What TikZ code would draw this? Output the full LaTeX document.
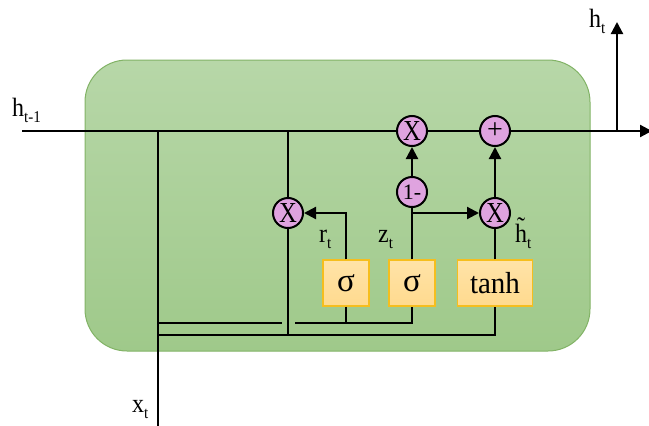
\documentclass[tikz,border=0pt]{standalone}
\usepackage{fontspec}
\setmainfont{Liberation Serif}
\usetikzlibrary{arrows.meta}
\definecolor{cellborder}{HTML}{82B366}
\definecolor{celltop}{HTML}{B7D7A8}
\definecolor{cellbot}{HTML}{9FC98A}
\definecolor{opfill}{HTML}{DFA3DF}
\definecolor{gatefill}{HTML}{FFDA8E}
\definecolor{gatetop}{HTML}{FFE3A8}
\definecolor{gateborder}{HTML}{F5BE1E}
\newcommand{\lbl}[2]{\scalebox{1}[1.1]{{\fontsize{24}{24}\selectfont #1}\raisebox{-6pt}{\fontsize{15}{15}\selectfont #2}}}
\newcommand{\opX}{\scalebox{0.85}[1]{\fontsize{29}{29}\selectfont X}}
\begin{document}
\begin{tikzpicture}[x=1pt,y=-1pt,
  wire/.style={line width=2.2pt,black},
  arrowwire/.style={wire,-{Triangle[length=12pt,width=12pt]}},
  opnode/.style={circle,draw=black,line width=2pt,fill=opfill,minimum size=30pt,inner sep=0pt},
  gatebox/.style={draw=gateborder,line width=1.3pt,top color=gatetop,bottom color=gatefill,minimum height=46pt,inner sep=0pt},
  lab/.style={anchor=base west,inner sep=0pt}]
\useasboundingbox (0,0) rectangle (649,426);
\shadedraw[top color=celltop,bottom color=cellbot,draw=cellborder,line width=1pt,rounded corners=42pt] (85,60) rectangle (590,351);
% coordinates
\coordinate (hin) at (22,131);
\coordinate (j1) at (158,131);
\coordinate (j2) at (288,131);
\coordinate (xin) at (158,428);
\coordinate (hout) at (617,131);
\coordinate (htop) at (617,22);
\coordinate (hend) at (652,131);
\coordinate (b1) at (158,323);
\coordinate (b2) at (282,323);
\coordinate (b3) at (295,323);
\coordinate (c1) at (158,335);
\coordinate (c2) at (288,335);
% nodes
\node[opnode] (X1) at (412,131) {\opX};
\node[opnode] (P) at (495,131) {\fontsize{28}{28}\selectfont +};
\node[opnode] (OM) at (412,192) {\fontsize{22}{22}\selectfont 1-};
\node[opnode] (Xr) at (495,213) {\opX};
\node[opnode] (Xl) at (288,213) {\opX};
\node[gatebox,minimum width=46pt] (s1) at (346,283) {\fontsize{33}{33}\selectfont σ};
\node[gatebox,minimum width=46pt] (s2) at (412,283) {\fontsize{33}{33}\selectfont σ};
\node[gatebox,minimum width=75pt] (th) at (495,283) {\scalebox{1}[1.05]{\fontsize{29}{29}\selectfont tanh}};
% wires
\draw[wire] (hin) -- (X1.west);
\draw[wire] (X1.east) -- (P.west);
\draw[arrowwire] (P.east) -- (hend);
\draw[arrowwire] (hout) -- (htop);
\draw[wire] (xin) -- (j1);
\draw[wire] (j2) -- (Xl.north);
\draw[wire] (Xl.south) -- (c2);
\draw[arrowwire] (s1.north) |- (Xl.east);
\draw[wire] (s2.north) -- (OM.south);
\draw[arrowwire] (s2.north |- Xr.west) -- (Xr.west);
\draw[arrowwire] (OM.north) -- (X1.south);
\draw[wire] (th.north) -- (Xr.south);
\draw[arrowwire] (Xr.north) -- (P.south);
\draw[wire] (b1) -- (b2);
\draw[wire] (b3) -| (s2.south);
\draw[wire] (s1.south) -- (s1.south |- b3);
\draw[wire] (c1) -| (th.south);
% labels
\node[lab] (lhin) at (12,116) {\lbl{h}{t-1}};
\node[lab] (lhout) at (589,27) {\lbl{h}{t}};
\node[lab] (lxt) at (132,412) {\lbl{x}{t}};
\node[lab] (lrt) at (319,242) {\lbl{r}{t}};
\node[lab] (lzt) at (378,242) {\lbl{z}{t}};
\node[lab] (lht) at (515,242) {\lbl{\~{h}}{t}};
\end{tikzpicture}
\end{document}
